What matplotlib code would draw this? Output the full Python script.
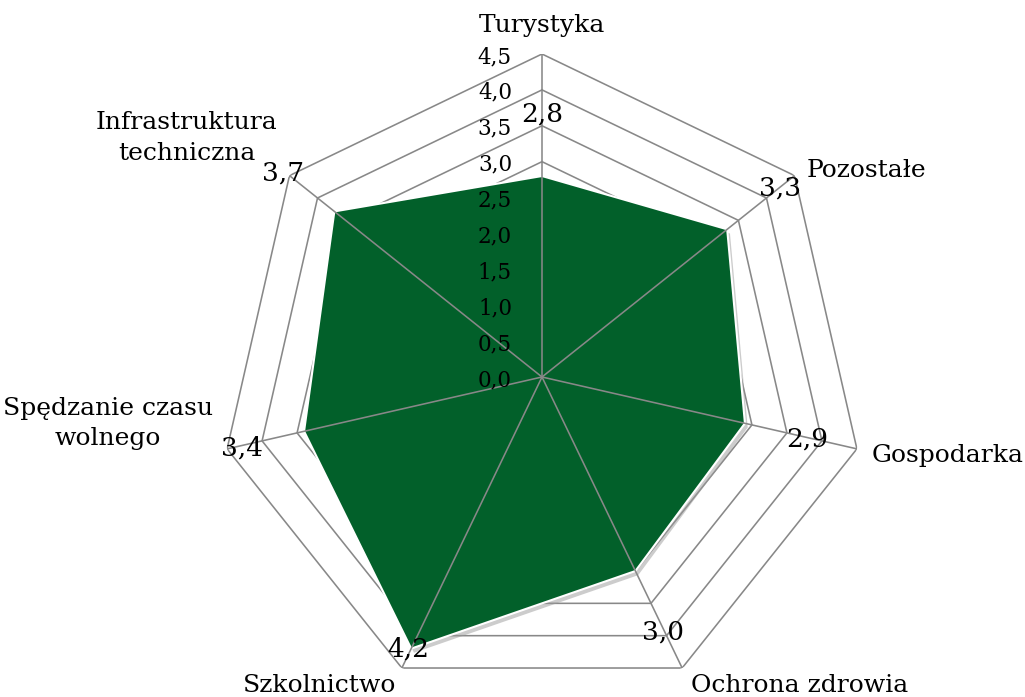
import numpy as np
import matplotlib
matplotlib.use("Agg")
import matplotlib.pyplot as plt
import matplotlib.patheffects as pe

# ---- data ----
categories = ["Turystyka", "Pozostałe", "Gospodarka", "Ochrona zdrowia",
              "Szkolnictwo", "Spędzanie czasu\nwolnego", "Infrastruktura\ntechniczna"]
values = [2.8, 3.3, 2.9, 3.0, 4.2, 3.4, 3.7]
r_ticks = [0.0, 0.5, 1.0, 1.5, 2.0, 2.5, 3.0, 3.5, 4.0, 4.5]

# ---- layout ----
W, H = 1025, 697
cx, cy, R = 542, 377, 323
rmax = 4.5
green = "#02602A"
gridc = "#888888"
plt.rcParams['font.family'] = ['DejaVu Serif']

fig = plt.figure(figsize=(W / 100, H / 100), dpi=100)
ax = fig.add_axes([(cx - R) / W, (H - cy - R) / H, 2 * R / W, 2 * R / H], projection='polar')
ax.set_theta_zero_location('N')
ax.set_theta_direction(-1)
ax.set_ylim(0, rmax)
ax.axis('off')

n = len(categories)
angles = [2 * np.pi * i / n for i in range(n)]
ang_c = angles + angles[:1]

# grid polygons
for r in r_ticks[1:]:
    ax.plot(ang_c, [r] * (n + 1), color=gridc, lw=1.15, zorder=1, solid_joinstyle='miter')

# filled series
vals_c = values + values[:1]
poly = ax.fill(ang_c, vals_c, facecolor=green, edgecolor='white', lw=1.5, zorder=2)[0]
poly.set_path_effects([pe.SimplePatchShadow(offset=(2, -3), shadow_rgbFace='#9a9a9a', alpha=0.5),
                       pe.Normal()])

# spokes
for a in angles:
    ax.plot([a, a], [0, rmax], color=gridc, lw=1.15, zorder=3)

# radial tick labels
for r in r_ticks:
    ax.annotate(f"{r:.1f}".replace('.', ','), xy=(0, r), xytext=(-30, -3),
                textcoords='offset pixels', ha='right', va='center',
                fontsize=15.5, color='black', zorder=5, annotation_clip=False)

# data labels (pixel offsets, x right / y down)
dl_off = [(0, -62), (53, -41), (62, 16), (28, 61), (-3, 0), (-62, 17), (-51, -38)]
for a, v, (dx, dy) in zip(angles, values, dl_off):
    ax.annotate(f"{v:.1f}".replace('.', ','), xy=(a, v), xytext=(dx, -dy),
                textcoords='offset pixels', ha='center', va='center',
                fontsize=19, color='black', zorder=6, annotation_clip=False)

# category labels (offset from outer vertex, pixels, x right / y down)
cat_pos = [((0, -22), 'center'), ((12, 1), 'left'), ((15, 13), 'left'), ((9, 24), 'left'),
           ((-6, 24), 'right'), ((-14, -4), 'right'), ((-12, -16), 'right')]
for a, lab, ((dx, dy), ha) in zip(angles, categories, cat_pos):
    ax.annotate(lab, xy=(a, rmax), xytext=(dx, -dy), textcoords='offset pixels',
                ha=ha, va='baseline', multialignment='center', linespacing=1.4,
                fontsize=18, color='black', zorder=6, annotation_clip=False)

fig.savefig("out.png", dpi=100, facecolor='white')
